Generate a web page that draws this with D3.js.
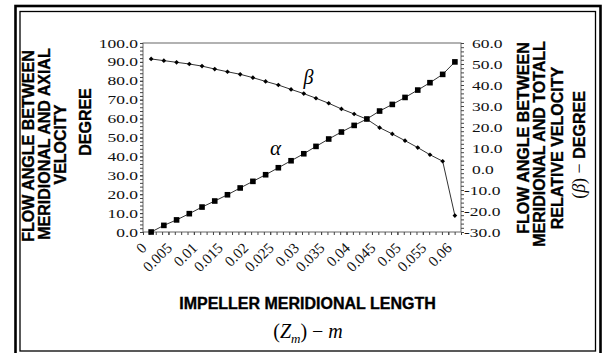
<!DOCTYPE html>
<html lang="en">
<head>
<meta charset="UTF-8">
<title>Flow angles along impeller meridional length</title>
<script src="https://d3js.org/d3.v7.min.js"></script>
<style>
  body { margin: 0; background: #fff; }
  svg { display: block; }
  .tick text { font-family: "Liberation Serif", "Times New Roman", serif; fill: #111; }
  .ttl { font-family: "Liberation Sans", Arial, sans-serif; font-weight: bold; font-size: 16px; fill: #000; stroke: #000; stroke-width: 0.35; }
  .math { font-family: "Liberation Serif", "Times New Roman", serif; fill: #000; stroke: none; font-weight: normal; }
</style>
</head>
<body>
<svg width="607" height="353"></svg>
<script>
// meridional length (m) and the two flow angles (deg)
const zm = [0.0016, 0.0041, 0.0066, 0.0091, 0.0116, 0.0141, 0.0166, 0.0191, 0.0216, 0.0241,
            0.0266, 0.0291, 0.0316, 0.0340, 0.0365, 0.0390, 0.0415, 0.0440, 0.0465, 0.0490,
            0.0515, 0.0540, 0.0564, 0.0589, 0.0613];
const alpha = [0, 3.5, 6.4, 9.7, 13.2, 16.4, 19.7, 23.3, 26.8, 30.3,
               34.0, 37.7, 41.4, 45.3, 49.2, 52.9, 56.4, 59.8, 64.0, 67.5,
               71.2, 75.1, 79.0, 83.4, 90.0];
const beta = [52.4, 51.6, 50.8, 50.0, 49.0, 47.6, 46.3, 45.1, 43.5, 41.7,
              40.0, 37.9, 35.9, 33.7, 31.3, 28.6, 26.2, 23.7, 19.7, 16.7,
              13.5, 10.2, 6.8, 3.7, -22.2];

const xTicks = [0, 0.005, 0.01, 0.015, 0.02, 0.025, 0.03, 0.035, 0.04, 0.045, 0.05, 0.055, 0.06];
const leftTicks = [0, 10, 20, 30, 40, 50, 60, 70, 80, 90, 100];
const rightTicks = [-30, -20, -10, 0, 10, 20, 30, 40, 50, 60];

const svg = d3.select("svg");

// double frame around the figure
svg.append("rect").attr("x", 15.5).attr("y", 6).attr("width", 585).attr("height", 370)
    .attr("fill", "none").attr("stroke", "#000").attr("stroke-width", 2.6);
svg.append("rect").attr("x", 20).attr("y", 11.5).attr("width", 575.5).attr("height", 339.5)
    .attr("fill", "none").attr("stroke", "#000").attr("stroke-width", 1.3);

const x = d3.scaleLinear().domain([0, 0.0625]).range([143, 461]);
const yL = d3.scaleLinear().domain([0, 100]).range([232, 43]);
const yR = d3.scaleLinear().domain([-30, 60]).range([232, 43]);

// plot box
svg.append("rect").attr("x", 143).attr("y", 43).attr("width", 318).attr("height", 189)
    .attr("fill", "#fff").attr("stroke", "#666").attr("stroke-width", 1);

const tickCol = "#444";

// x axis: minor ticks + rotated labels
const gx = svg.append("g").attr("transform", "translate(0,232)");
gx.call(d3.axisBottom(x).tickValues(d3.range(0, 0.0626, 0.00125)).tickSize(3).tickFormat(""));
gx.append("g").call(d3.axisBottom(x).tickValues(xTicks).tickSize(3)
    .tickFormat(d => String(+d.toFixed(3))));
gx.selectAll(".domain").remove();
gx.selectAll(".tick line").attr("stroke", tickCol);
gx.selectAll(".tick text")
    .attr("font-size", 15)
    .attr("text-anchor", "end")
    .attr("transform", "translate(4,17) rotate(-45)")
    .attr("x", 0).attr("y", 0).attr("dy", 0);

// left axis
const gl = svg.append("g").attr("transform", "translate(143,0)");
gl.call(d3.axisLeft(yL).tickValues(d3.range(0, 101, 2)).tickSize(3).tickFormat(""));
gl.append("g").call(d3.axisLeft(yL).tickValues(leftTicks).tickSize(3).tickFormat(d => d.toFixed(1)));
gl.selectAll(".domain").remove();
gl.selectAll(".tick line").attr("stroke", tickCol);
gl.selectAll(".tick text")
    .attr("font-size", 12.5)
    .attr("x", -5 / 1.4)
    .attr("transform", "scale(1.4,1)");

// right axis
const gr = svg.append("g").attr("transform", "translate(461,0)");
gr.call(d3.axisRight(yR).tickValues(d3.range(-30, 61, 2)).tickSize(3).tickFormat(""));
gr.append("g").call(d3.axisRight(yR).tickValues(rightTicks).tickSize(3)
    .tickFormat(d => (d < 0 ? "-" : "") + Math.abs(d).toFixed(1)));
gr.selectAll(".domain").remove();
gr.selectAll(".tick line").attr("stroke", tickCol);
gr.selectAll(".tick text")
    .attr("font-size", 12.5)
    .attr("x", d => (d < 0 ? 3 : 11) / 1.4)
    .attr("transform", "scale(1.4,1)");

// series
const lineA = d3.line().x((d, i) => x(zm[i])).y(d => yL(d));
const lineB = d3.line().x((d, i) => x(zm[i])).y(d => yR(d));

svg.append("path").datum(alpha).attr("d", lineA)
    .attr("fill", "none").attr("stroke", "#333").attr("stroke-width", 1);
svg.append("path").datum(beta).attr("d", lineB)
    .attr("fill", "none").attr("stroke", "#333").attr("stroke-width", 1);

svg.append("g").selectAll("rect").data(alpha).join("rect")
    .attr("x", (d, i) => x(zm[i]) - 2.8)
    .attr("y", d => yL(d) - 2.8)
    .attr("width", 5.6).attr("height", 5.6)
    .attr("fill", "#000");

const diamond = d3.symbol(d3.symbolSquare, 11);
svg.append("g").selectAll("path").data(beta).join("path")
    .attr("d", diamond)
    .attr("transform", (d, i) => `translate(${x(zm[i])},${yR(d)}) rotate(45)`)
    .attr("fill", "#000");

// curve labels
svg.append("text").attr("class", "math").attr("x", 308.5).attr("y", 84)
    .attr("text-anchor", "middle").attr("font-size", 20).attr("font-style", "italic").text("β");
svg.append("text").attr("class", "math").attr("x", 275.5).attr("y", 155)
    .attr("text-anchor", "middle").attr("font-size", 21).attr("font-style", "italic").text("α");

// left title
const leftLines = [
  ["FLOW ANGLE BETWEEN", 33.5, 146],
  ["MERIDIONAL AND AXIAL", 50, 144],
  ["VELOCITY", 66, 144.5],
  ["DEGREE", 90.5, 122]
];
svg.append("g").selectAll("text").data(leftLines).join("text")
    .attr("class", "ttl")
    .attr("text-anchor", "middle")
    .attr("transform", d => `translate(${d[1]},${d[2]}) rotate(-90)`)
    .text(d => d[0]);

// right title
const rightLines = [
  ["FLOW ANGLE BETWEEN", 528.5, 138],
  ["MERIDIONAL AND TOTALL", 545, 144],
  ["RELATIVE VELOCITY", 562.5, 148]
];
svg.append("g").selectAll("text").data(rightLines).join("text")
    .attr("class", "ttl")
    .attr("text-anchor", "middle")
    .attr("transform", d => `translate(${d[1]},${d[2]}) rotate(-90)`)
    .text(d => d[0]);

const rb = svg.append("text").attr("text-anchor", "middle")
    .attr("transform", "translate(584.5,145) rotate(-90)");
rb.append("tspan").attr("class", "math").attr("font-size", 18).text("(");
rb.append("tspan").attr("class", "math").attr("font-size", 18).attr("font-style", "italic").text("β");
rb.append("tspan").attr("class", "math").attr("font-size", 18).text(") − ");
rb.append("tspan").attr("class", "ttl").text("DEGREE");

// bottom title
svg.append("text").attr("class", "ttl").attr("x", 307.5).attr("y", 309)
    .attr("text-anchor", "middle").text("IMPELLER MERIDIONAL LENGTH");

const bm = svg.append("text").attr("class", "math").attr("x", 308).attr("y", 338)
    .attr("text-anchor", "middle").attr("font-size", 20);
bm.append("tspan").text("(");
bm.append("tspan").attr("font-style", "italic").text("Z");
bm.append("tspan").attr("font-style", "italic").attr("font-size", 13).attr("dy", 5).text("m");
bm.append("tspan").attr("dy", -5).text(") − ");
bm.append("tspan").attr("font-style", "italic").text("m");
</script>
</body>
</html>
